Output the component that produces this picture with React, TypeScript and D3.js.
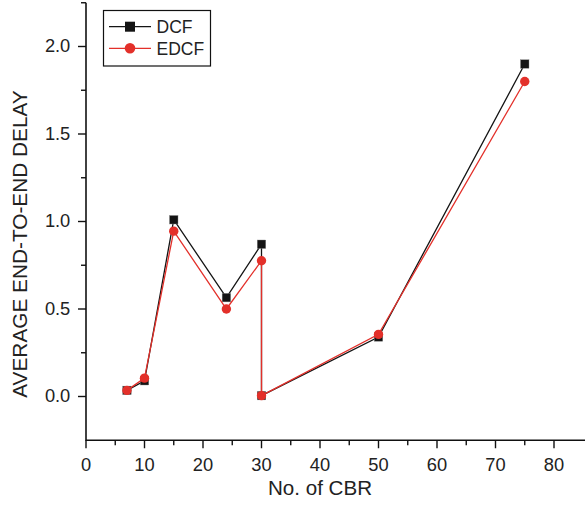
import React from "react";
import * as d3 from "d3";

const cbr = [7, 10, 15, 24, 30, 30, 50, 75];
const dcf = [0.035, 0.09, 1.01, 0.565, 0.87, 0.005, 0.34, 1.9];
const edcf = [0.035, 0.105, 0.945, 0.5, 0.776, 0.005, 0.355, 1.8];
const xTicks = [0, 10, 20, 30, 40, 50, 60, 70, 80];
const yTicks = [0, 0.5, 1.0, 1.5, 2.0];
const seriesNames = ["DCF", "EDCF"];

const W = 587;
const H = 505;
const FONT = "'Liberation Sans', Arial, Helvetica, sans-serif";
const BLACK = "#141414";
const RED = "#e3302a";

export default function App() {
  const x = d3.scaleLinear().domain([0, 85]).range([86, 583.25]);
  const y = d3.scaleLinear().domain([-0.25, 2.25]).range([440.25, 2.75]);
  const line = d3
    .line<[number, number]>()
    .x((d) => x(d[0]))
    .y((d) => y(d[1]));
  const dcfPts: [number, number][] = cbr.map((c, i) => [c, dcf[i]]);
  const edcfPts: [number, number][] = cbr.map((c, i) => [c, edcf[i]]);
  const xMinor = d3.range(5, 85, 10);
  const yMinor = [0.25, 0.75, 1.25, 1.75, 2.25];
  const sq = 8.5;
  const cr = 4.7;
  const y0 = y.range()[0];
  const x0 = x.range()[0];

  return (
    <svg
      width={W}
      height={H}
      style={{ position: "absolute", left: 0, top: 0, background: "#fff" }}
      fontFamily={FONT}
    >
      <rect width={W} height={H} fill="#fff" />
      {/* axes */}
      <line x1={x0} x2={x0} y1={y.range()[1]} y2={y0 + 0.75} stroke="#111" strokeWidth={1.6} />
      <line x1={x0} x2={585} y1={y0} y2={y0} stroke="#111" strokeWidth={1.6} />
      {xTicks.map((t) => (
        <g key={"xt" + t}>
          <line x1={x(t)} x2={x(t)} y1={y0} y2={y0 + 8} stroke="#111" strokeWidth={1.4} />
          <text x={x(t)} y={y0 + 30.5} textAnchor="middle" fontSize={18.3} fill="#222">
            {t}
          </text>
        </g>
      ))}
      {xMinor.map((t) => (
        <line key={"xm" + t} x1={x(t)} x2={x(t)} y1={y0} y2={y0 + 5} stroke="#111" strokeWidth={1.4} />
      ))}
      {yTicks.map((t) => (
        <g key={"yt" + t}>
          <line x1={x0 - 8} x2={x0} y1={y(t)} y2={y(t)} stroke="#111" strokeWidth={1.4} />
          <text x={70.3} y={y(t) + 5.5} textAnchor="end" fontSize={18.3} fill="#222">
            {t.toFixed(1)}
          </text>
        </g>
      ))}
      {yMinor.map((t) => (
        <line key={"ym" + t} x1={x0 - 5} x2={x0} y1={y(t)} y2={y(t)} stroke="#111" strokeWidth={1.4} />
      ))}
      {/* axis titles */}
      <text x={320} y={495} textAnchor="middle" fontSize={20.6} fill="#222">
        No. of CBR
      </text>
      <text
        transform={`translate(26.5,244) rotate(-90)`}
        textAnchor="middle"
        fontSize={20.8}
        fill="#222"
      >
        AVERAGE END-TO-END DELAY
      </text>
      {/* DCF */}
      <path d={line(dcfPts) || ""} fill="none" stroke={BLACK} strokeWidth={1.3} />
      {dcfPts.map((p, i) => (
        <rect
          key={"d" + i}
          x={x(p[0]) - sq / 2}
          y={y(p[1]) - sq / 2}
          width={sq}
          height={sq}
          fill={BLACK}
          stroke="#888"
          strokeWidth={0.4}
        />
      ))}
      {/* EDCF */}
      <path d={line(edcfPts) || ""} fill="none" stroke={RED} strokeWidth={1.3} />
      {edcfPts.map((p, i) => (
        <circle key={"e" + i} cx={x(p[0])} cy={y(p[1])} r={cr} fill={RED} />
      ))}
      {/* legend */}
      <rect x={103.5} y={10.5} width={107} height={55.5} fill="#fff" stroke="#111" strokeWidth={1.2} />
      <line x1={109} x2={151} y1={26.7} y2={26.7} stroke={BLACK} strokeWidth={1.3} />
      <rect x={130 - 5} y={26.7 - 5} width={10} height={10} fill={BLACK} />
      <text x={156.5} y={26.7 + 6.3} fontSize={17.5} fill="#222">
        {seriesNames[0]}
      </text>
      <line x1={109} x2={151} y1={48.3} y2={48.3} stroke={RED} strokeWidth={1.3} />
      <circle cx={130} cy={48.3} r={5.3} fill={RED} />
      <text x={156.5} y={48.3 + 6.3} fontSize={17.5} fill="#222">
        {seriesNames[1]}
      </text>
    </svg>
  );
}
